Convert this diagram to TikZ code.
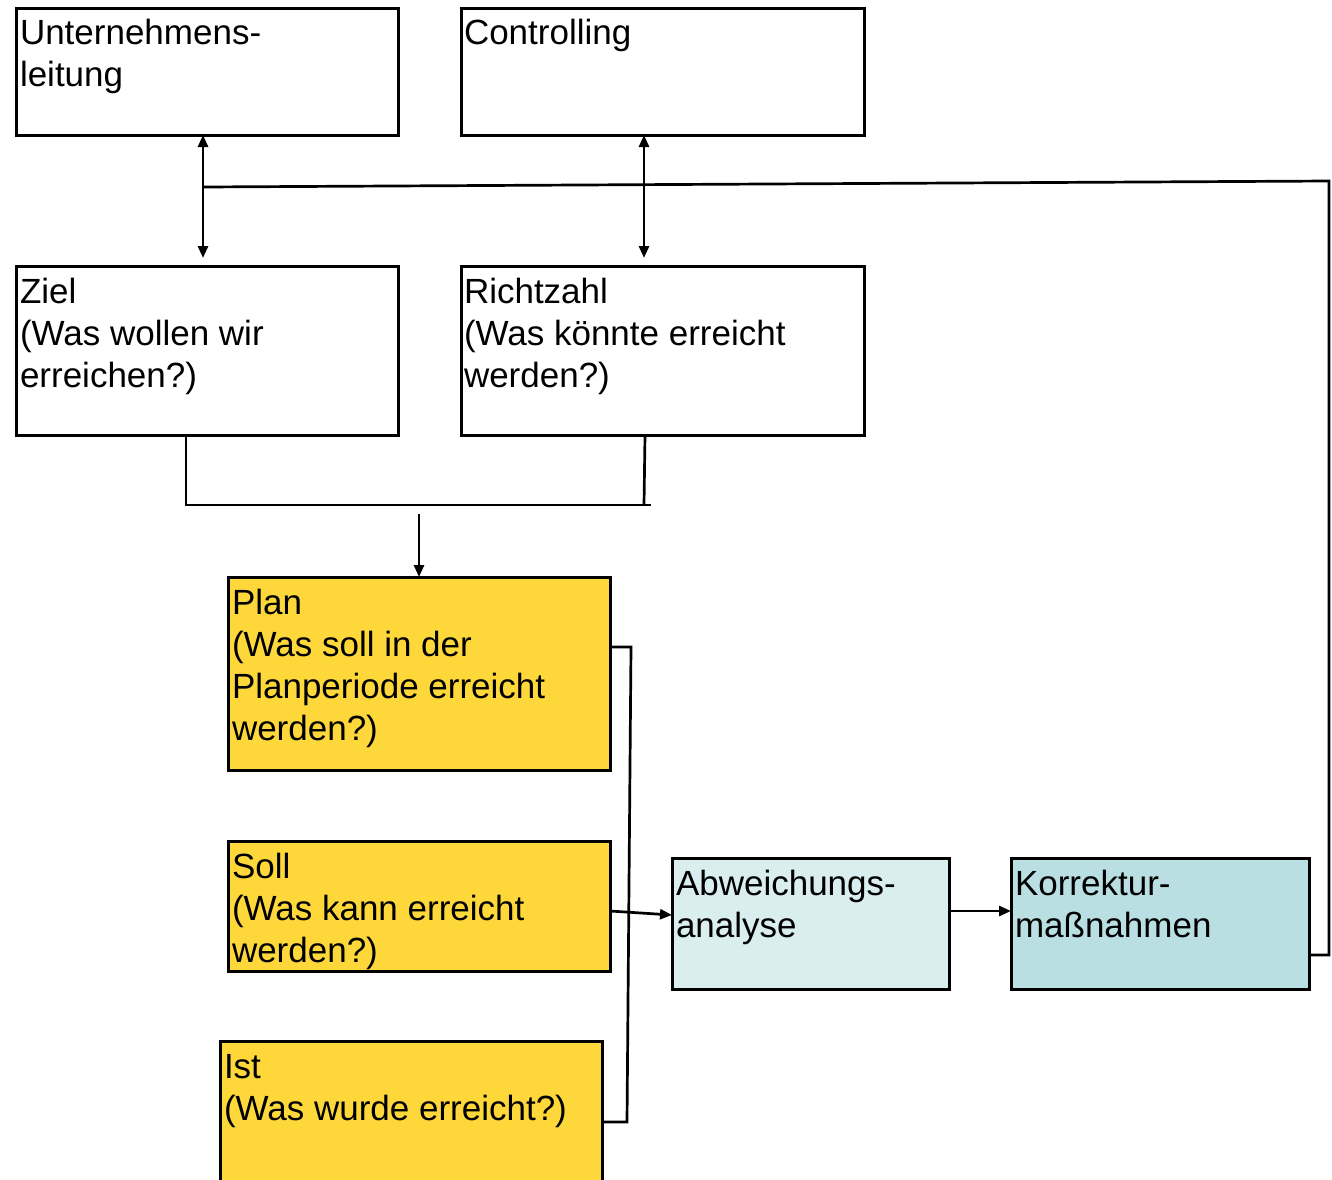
\documentclass[tikz,border=0pt]{standalone}
\usepackage{fontspec}
\setmainfont{Liberation Sans}
\usetikzlibrary{calc,arrows.meta}

\definecolor{planyellow}{HTML}{FED83A}
\definecolor{abwblue}{HTML}{DAEEF0}
\definecolor{korrblue}{HTML}{B9DFE2}

% multi-line box label, first baseline at the node's base
\newcommand{\boxlabel}[1]{\parbox[t]{400pt}{\raggedright\fontsize{35}{42}\selectfont #1}}

\begin{document}
\begin{tikzpicture}[x=1pt,y=-1pt,
  box/.style={draw=black, line width=3pt, rectangle, inner sep=0pt, outer sep=0pt, anchor=north west},
  txt/.style={inner sep=0pt, outer sep=0pt, anchor=base west},
  conn/.style={line width=2.7pt},
  tip/.style={-{Triangle[length=12pt,width=10pt]}},
  dtip/.style={{Triangle[length=12pt,width=10pt]}-{Triangle[length=12pt,width=10pt]}}
]
\clip (0,0) rectangle (1332,1179);
\fill[white] (0,0) rectangle (1332,1179);

% boxes
\node[box, minimum width=382pt, minimum height=127pt] (ul) at (16,8) {};
\node[box, minimum width=403pt, minimum height=127pt] (co) at (461,8) {};
\node[box, minimum width=382pt, minimum height=169pt] (zi) at (16,266) {};
\node[box, minimum width=403pt, minimum height=169pt] (ri) at (461,266) {};
\node[box, fill=planyellow, minimum width=382pt, minimum height=193pt] (pl) at (228,577) {};
\node[box, fill=planyellow, minimum width=382pt, minimum height=130pt] (so) at (228,841) {};
\node[box, fill=planyellow, minimum width=382pt, minimum height=200pt] (is) at (220,1041) {};
\node[box, fill=abwblue, minimum width=277pt, minimum height=131pt] (ab) at (672,858) {};
\node[box, fill=korrblue, minimum width=298pt, minimum height=131pt] (ko) at (1011,858) {};

% labels
\node[txt] (ult) at ($(ul.north west)+(4,36)$) {\boxlabel{Unternehmens-\\leitung}};
\node[txt] (cot) at ($(co.north west)+(3,36)$) {\boxlabel{Controlling}};
\node[txt] (zit) at ($(zi.north west)+(4,37)$) {\boxlabel{Ziel\\(Was wollen wir\\erreichen?)}};
\node[txt] (rit) at ($(ri.north west)+(3,37)$) {\boxlabel{Richtzahl\\(Was könnte erreicht\\werden?)}};
\node[txt] (plt) at ($(pl.north west)+(4,37)$) {\boxlabel{Plan\\(Was soll in der\\Planperiode erreicht\\werden?)}};
\node[txt] (sot) at ($(so.north west)+(4,37)$) {\boxlabel{Soll\\(Was kann erreicht\\werden?)}};
\node[txt] (ist) at ($(is.north west)+(4,37)$) {\boxlabel{Ist\\(Was wurde erreicht?)}};
\node[txt] (abt) at ($(ab.north west)+(4,37)$) {\boxlabel{Abweichungs-\\analyse}};
\node[txt] (kot) at ($(ko.north west)+(4,37)$) {\boxlabel{Korrektur-\\maßnahmen}};

% two-way links between management/controlling and target/benchmark
\coordinate (uz) at (203,258);
\coordinate (cr) at (644,258);
\draw[conn, dtip] (uz |- ul.south) -- (uz);
\draw[conn, dtip] (cr |- co.south) -- (cr);

% feedback line from the corrective measures
\coordinate (fb0) at (203,187);
\coordinate (fb1) at (1329,181);
\coordinate (fb2) at (1329,955);
\draw[conn] (fb0) -- (fb1) -- (fb2) -- (fb2 -| ko.east);

% merge of target and benchmark into the plan
\coordinate (zb) at (186,505);
\coordinate (rb) at (644,505);
\coordinate (re) at (651,505);
\draw[conn] (zb |- zi.south) -- (zb) -- (re);
\draw[conn] ([xshift=1pt]rb |- ri.south) -- (rb);
\coordinate (pm) at (419,514);
\draw[conn, tip] (pm) -- (pl.north);

% bracket joining plan and actual
\coordinate (pe) at (631,647);
\coordinate (ie) at (627,1122);
\draw[conn] (pe -| pl.east) -- (pe) -- (ie) -- (ie -| is.east);

% into the variance analysis and on to the measures
\coordinate (s1) at (610,911);
\coordinate (a1) at (672,915);
\draw[conn, tip] (s1) -- (a1);
\coordinate (a2) at (949,911);
\draw[conn, tip] (a2) -- (a2 -| ko.west);
\end{tikzpicture}
\end{document}
